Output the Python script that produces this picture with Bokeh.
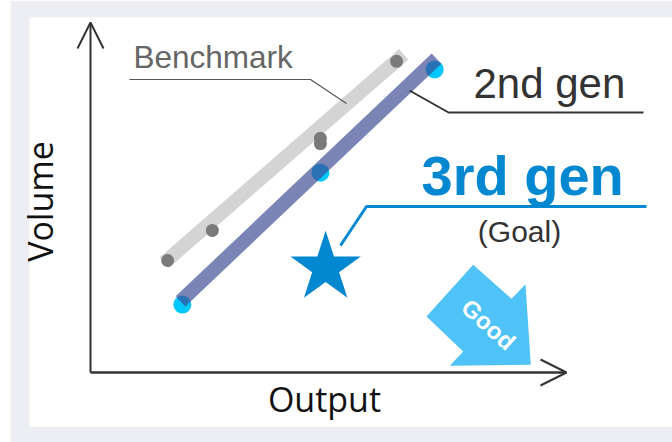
import math
from bokeh.plotting import figure
from bokeh.models import Range1d, Label, Arrow, OpenHead
from bokeh.embed import file_html
from bokeh.resources import INLINE

# ---- data (Output / Volume, arbitrary units; axis corner = 0, arrow tips = 100) ----
bench_output = [16.2, 25.6, 48.3, 48.3, 64.3]
bench_volume = [32.0, 40.6, 66.9, 65.4, 88.9]
bench_trend_output = [15.5, 65.8]
bench_trend_volume = [31.4, 90.9]

gen2_output = [19.3, 48.3, 72.3]
gen2_volume = [19.4, 57.1, 86.6]
gen2_trend_output = [18.9, 72.7]
gen2_trend_volume = [20.3, 89.7]

goal_output = [49.4]
goal_volume = [29.9]

# ---- layout helpers (pixel -> data) ----
W, H = 672, 442
OX, OY, SX, SY = 90.0, 372.0, 4.76, 3.5
def X(px):
    return (px - OX) / SX
def Y(py):
    return (OY - py) / SY

p = figure(width=W, height=H, output_backend="svg", toolbar_location=None,
           x_range=Range1d(X(0), X(W)), y_range=Range1d(Y(H), Y(0)),
           x_axis_type=None, y_axis_type=None, min_border=0)
p.outline_line_color = None
p.grid.visible = False
p.background_fill_color = "white"
p.border_fill_color = "white"

# frame
p.quad(left=[X(10)], right=[X(W)], top=[Y(0)], bottom=[Y(H)], fill_color="#edeef4", line_color=None)
p.quad(left=[X(29)], right=[X(W)], top=[Y(17)], bottom=[Y(426)], fill_color="white", line_color=None)

# axes with open arrowheads
p.add_layout(Arrow(x_start=0, y_start=0, x_end=0, y_end=100, line_color="#333333", line_width=2,
                   end=OpenHead(size=26, line_color="#333333", line_width=2)))
p.add_layout(Arrow(x_start=0, y_start=0, x_end=100, y_end=0, line_color="#333333", line_width=2.5,
                   end=OpenHead(size=26, line_color="#333333", line_width=2)))

# benchmark
p.line(bench_trend_output, bench_trend_volume, line_color="#d4d4d4", line_width=14, line_cap="butt")
p.scatter(bench_output, bench_volume, size=13, fill_color="#7a7a7a", line_color=None)

# 2nd gen
p.scatter(gen2_output, gen2_volume, size=18, fill_color="#00c8ff", line_color=None)
p.line(gen2_trend_output, gen2_trend_volume, line_color="#3b4a92", line_alpha=0.68,
       line_width=14, line_cap="butt")

# goal star
p.scatter(goal_output, goal_volume, marker="star", size=74, fill_color="#0288d1", line_color=None)

# leader lines
p.line([X(129), X(310), X(346)], [Y(79), Y(79), Y(103)], line_color="#555555", line_width=1.2)
p.line([X(409), X(448), X(643)], [Y(90), Y(112), Y(112)], line_color="#333333", line_width=2)
p.line([X(340), X(366), X(646)], [Y(245), Y(206), Y(206)], line_color="#0288d1", line_width=3)

# "Good" arrow
gx = [472.7, 426, 462.7, 449.3, 530.3, 525, 511]
gy = [264.3, 316, 351, 365.3, 364.3, 283.7, 298.3]
p.patch([X(v) for v in gx], [Y(v) for v in gy], fill_color="#4fc3f7", line_color=None)

SHIFT = 0.39
def lab(x, y, text, size, color, font="Liberation Sans", style="normal", align="left",
        baseline="alphabetic", angle=0.0, shift=True):
    if shift and angle == 0.0:
        y = y - SHIFT * size
    elif shift:
        x = x - SHIFT * size
    p.add_layout(Label(x=X(x), y=Y(y), text=text, text_font=font, text_font_size=f"{size}px",
                       text_color=color, text_font_style=style, text_align=align,
                       text_baseline=baseline, angle=angle))

lab(133, 69, "Benchmark", 31.5, "#666666")
lab(473, 99, "2nd gen", 42, "#333333")
lab(421, 197, "3rd gen", 56, "#0288d1", style="bold")
lab(519, 243, "(Goal)", 30, "#333333", align="center")
lab(488, 324, "Good", 24, "white", style="bold", align="center", baseline="middle",
    angle=math.radians(-42), shift=False)
lab(324, 412, "Output", 34, "#111111", font="Open Sans", align="center")
lab(53, 201, "Volume", 34, "#111111", font="Open Sans", align="center", angle=math.pi / 2)

open("out.html", "w").write(file_html(p, INLINE))
